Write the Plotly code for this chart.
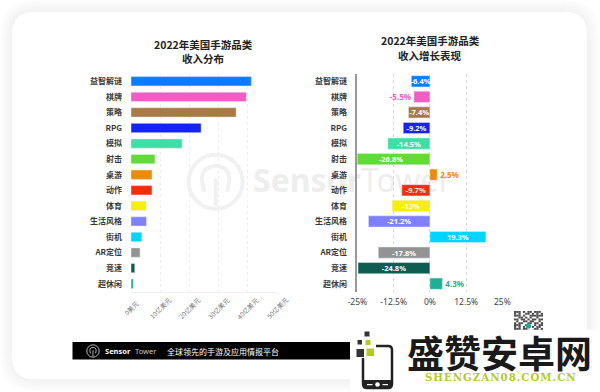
import plotly.graph_objects as go

categories = ["益智解谜", "棋牌", "策略", "RPG", "模拟", "射击", "桌游", "动作", "体育", "生活风格", "街机", "AR定位", "竞速", "超休闲"]
revenue_yi = [41.2, 39.5, 36, 24, 17.5, 8.2, 7.2, 7.2, 5.2, 5.3, 3.7, 3.1, 1.3, 0.8]
growth_pct = [-6.4, -5.5, -7.4, -9.2, -14.5, -26.8, 2.5, -9.7, -13, -21.2, 19.3, -17.8, -24.8, 4.3]
growth_labels = ["-6.4%", "-5.5%", "-7.4%", "-9.2%", "-14.5%", "-26.8%", "2.5%", "-9.7%", "-13%", "-21.2%", "19.3%", "-17.8%", "-24.8%", "4.3%"]
colors = ["#0A7CFF", "#F25CC4", "#A97A44", "#1524F5", "#3BE0A6", "#62DB35", "#EE8A00", "#FF2A0A", "#F7EE0A", "#7F80FF", "#00D5FF", "#939393", "#0F5C50", "#1FAE96"]
rev_ticks = [0, 10, 20, 30, 40, 50]
rev_ticktext = ["0美元", "10亿美元", "20亿美元", "30亿美元", "40亿美元", "50亿美元"]
growth_ticks = [-25, -12.5, 0, 12.5, 25]
growth_ticktext = ["-25%", "-12.5%", "0%", "12.5%", "25%"]
qr_rows = [
    "1110101101110", "1010011010101", "1110100111111", "0011010100100",
    "1101101011011", "0100110110010", "1011001101101", "1110010001011",
    "1010100010110", "1110110001101", "0101001011011",
]

W, H = 600, 392
FONT = "Noto Sans CJK SC"
X = lambda p: p / W
Y = lambda p: 1 - p / H

def rrect(x0, y0, x1, y1, r):
    return (f"M {X(x0+r)} {Y(y0)} L {X(x1-r)} {Y(y0)} Q {X(x1)} {Y(y0)} {X(x1)} {Y(y0+r)} "
            f"L {X(x1)} {Y(y1-r)} Q {X(x1)} {Y(y1)} {X(x1-r)} {Y(y1)} L {X(x0+r)} {Y(y1)} "
            f"Q {X(x0)} {Y(y1)} {X(x0)} {Y(y1-r)} L {X(x0)} {Y(y0+r)} Q {X(x0)} {Y(y0)} {X(x0+r)} {Y(y0)} Z")

shapes = []
def rect(x0, y0, x1, y1, color, layer="above"):
    shapes.append(dict(type="rect", xref="paper", yref="paper", x0=X(x0), x1=X(x1), y0=Y(y0), y1=Y(y1),
                       fillcolor=color, line_width=0, layer=layer))
def circle(cx, cy, r, line=None, lw=0, fill=None, layer="above"):
    shapes.append(dict(type="circle", xref="paper", yref="paper", x0=X(cx-r), x1=X(cx+r), y0=Y(cy-r), y1=Y(cy+r),
                       fillcolor=fill or "rgba(0,0,0,0)", line=dict(color=line or "rgba(0,0,0,0)", width=lw), layer=layer))
def path(d, line=None, lw=0, fill=None, layer="above"):
    shapes.append(dict(type="path", xref="paper", yref="paper", path=d, fillcolor=fill or "rgba(0,0,0,0)",
                       line=dict(color=line or "rgba(0,0,0,0)", width=lw), layer=layer))
def sensor_icon(cx, cy, s, color, lw, layer):
    circle(cx, cy, 27 * s, line=color, lw=lw, layer=layer)
    path(f"M {X(cx-11*s)} {Y(cy+10*s)} Q {X(cx-20*s)} {Y(cy-14*s)} {X(cx)} {Y(cy-16*s)} "
         f"Q {X(cx+20*s)} {Y(cy-14*s)} {X(cx+11*s)} {Y(cy+10*s)}", line=color, lw=lw, layer=layer)
    path(f"M {X(cx)} {Y(cy-3*s)} L {X(cx)} {Y(cy+24*s)}", line=color, lw=lw, layer=layer)

# card with soft shadow
for d in range(13, 0, -1):
    path(rrect(12 - d, 12 - d, 587 + d, 379 + d, 22 + d), fill="rgba(0,0,0,0.005)", layer="below")
path(rrect(12, 12, 587, 379, 22), fill="#ffffff", layer="below")

# watermark
sensor_icon(215.7, 181.7, 1.0, "#f1f1f1", 4, "below")
shapes.append(dict(type="rect", xref="paper", yref="paper", x0=X(250), x1=X(440), y0=Y(160), y1=Y(202),
                   line_width=0, fillcolor="rgba(0,0,0,0)", layer="below",
                   label=dict(text="<b>Sensor</b>Tower", textposition="middle left",
                              font=dict(family="Noto Sans", size=32, color="#eeeeee"), padding=0)))

# footer band
rect(72.5, 342, 352, 359.5, "#000000")
sensor_icon(93, 351, 0.23, "#dddddd", 0.8, "above")

# QR code
mod = 29 / len(qr_rows[0])
for j, row in enumerate(qr_rows):
    for i, c in enumerate(row):
        if c == "1":
            rect(514 + i * mod, 311 + j * mod * 0.84, 514 + (i + 1) * mod, 311 + (j + 1) * mod * 0.84, "#4a4a4a")
circle(528.5, 326, 2.6, fill="#1FA99A")

# logo patch
rect(350, 330, 600, 392, "#ffffff")
rect(364.5, 331.5, 369.5, 336.5, "#333333")
rect(357.5, 340, 362, 344.5, "#333333")
rect(365.5, 340, 370.5, 345, "#B2CC1E")
rect(356.5, 349, 364, 357, "#333333")
rect(366.5, 348.5, 374, 356, "#B2CC1E")
path(f"M {X(376)} {Y(346)} L {X(388)} {Y(346)} Q {X(392)} {Y(346)} {X(392)} {Y(350)} L {X(392)} {Y(384)} "
     f"Q {X(392)} {Y(388)} {X(388)} {Y(388)} L {X(367)} {Y(388)} Q {X(363)} {Y(388)} {X(363)} {Y(384)} L {X(363)} {Y(358)}",
     line="#222222", lw=2.5)
rect(363, 380, 392, 388, "#222222")
circle(377.5, 384.5, 2.3, fill="#ffffff")
rect(367, 384, 372.5, 385.2, "#ffffff")
rect(382.5, 384, 388, 385.2, "#ffffff")

def note(text, px, py, size, color="#222222", family=FONT, anchor="center", angle=0):
    return dict(text=text, x=X(px), y=Y(py), xref="paper", yref="paper", showarrow=False, xanchor=anchor,
                yanchor="middle", textangle=angle, font=dict(size=size, color=color, family=family))

annotations = [
    note("<b>2022年美国手游品类</b>", 203, 44, 10.5),
    note("<b>收入分布</b>", 203, 59, 10.5),
    note("<b>2022年美国手游品类</b>", 430, 41, 10.5),
    note("<b>收入增长表现</b>", 430, 56, 10.5),
    note("<b>Sensor</b>", 103, 351, 7.5, "#ffffff", "Noto Sans", "left"),
    note("Tower", 133, 351, 7.5, "#cccccc", "Noto Sans", "left"),
    note("全球领先的手游及应用情报平台", 165, 351, 8, "#ffffff", FONT, "left"),
    note("<b>盛赞安卓网</b>", 499, 352, 37, "#1a1a1a"),
    note("<b>" + "\u200a".join("SHENGZAN08.COM.CN") + "</b>", 500, 377, 10.2, "#B2CC1E", "DejaVu Serif"),
]
for v, t in zip(rev_ticks, rev_ticktext):
    annotations.append(dict(text=t, x=v, xref="x", y=Y(308), yref="paper", showarrow=False, textangle=-45,
                            xanchor="center", yanchor="middle", font=dict(size=6.5, color="#777777", family=FONT)))

fig = go.Figure()
fig.add_trace(go.Bar(x=revenue_yi, y=categories, orientation="h", marker=dict(color=colors), width=0.6,
                     xaxis="x", yaxis="y", showlegend=False))
positions = ["outside" if v in (-5.5, 2.5, 4.3) else "inside" for v in growth_pct]
text_colors = [c if p == "outside" else "#ffffff" for c, p in zip(colors, positions)]
fig.add_trace(go.Bar(x=growth_pct, y=categories, orientation="h", marker=dict(color=colors), width=0.72,
                     text=growth_labels, textposition=positions, insidetextanchor="middle", constraintext="none",
                     textangle=0, cliponaxis=True,
                     textfont=dict(color=text_colors, size=7.5, family="Noto Sans", weight=700),
                     outsidetextfont=dict(color=text_colors, size=8, family="Noto Sans", weight=700),
                     xaxis="x2", yaxis="y2", showlegend=False))

top, bottom = 73.5, 291.5
cat_font = dict(size=8, color="#3a3a3a", family=FONT, weight=700)
fig.update_layout(
    width=W, height=H, autosize=False, margin=dict(l=0, r=0, t=0, b=0, pad=0, autoexpand=False),
    paper_bgcolor="#ffffff", plot_bgcolor="rgba(0,0,0,0)", bargap=0.3,
    xaxis=dict(domain=[X(131), X(277)], range=[0, 50], tickvals=rev_ticks, showticklabels=False, anchor="y",
               showgrid=True, gridcolor="#eeeeee", griddash="dot", gridwidth=1, zeroline=False,
               showline=True, linecolor="#eeeeee", linewidth=1),
    yaxis=dict(domain=[Y(bottom), Y(top)], range=[13.5, -0.5], type="category", categoryorder="array",
               categoryarray=categories, anchor="x", tickfont=cat_font, ticks="", ticklabelstandoff=8,
               showgrid=False, showline=False, zeroline=False),
    xaxis2=dict(domain=[X(357.4), X(502.4)], range=[-25, 25], tickvals=growth_ticks, ticktext=growth_ticktext, anchor="y2",
                tickfont=dict(size=8.5, color="#444444", family="Noto Sans"), ticks="", ticklabelstandoff=4,
                showgrid=True, gridcolor="#d8d8d8", griddash="dot", gridwidth=1, zeroline=False, showline=False),
    yaxis2=dict(domain=[Y(bottom), Y(top)], range=[13.5, -0.5], type="category", categoryorder="array",
                categoryarray=categories, anchor="x2", tickfont=cat_font, ticks="", ticklabelstandoff=7,
                showgrid=False, showline=True, linecolor="#999999", linewidth=1.5, zeroline=False),
    shapes=shapes, annotations=annotations,
)
fig.write_html("out.html", config={"displayModeBar": False},
               post_script="document.body.style.margin='0';document.body.style.background='#ffffff';")
